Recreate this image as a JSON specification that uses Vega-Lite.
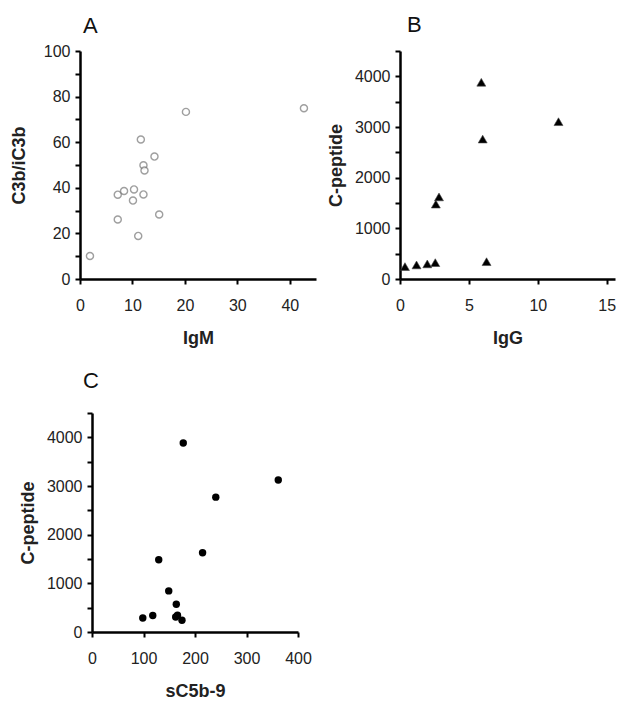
{
  "$schema": "https://vega.github.io/schema/vega-lite/v6.json",
  "padding": {"left": 10, "top": 14, "right": 0, "bottom": 0},
  "background": "white",
  "datasets": {
    "a": [
      {"IgM": 1.9, "C3b": 10.1}, {"IgM": 7.2, "C3b": 37.0}, {"IgM": 8.4, "C3b": 38.6},
      {"IgM": 10.3, "C3b": 39.3}, {"IgM": 10.1, "C3b": 34.4}, {"IgM": 7.2, "C3b": 26.1},
      {"IgM": 11.1, "C3b": 18.9}, {"IgM": 11.6, "C3b": 61.2}, {"IgM": 12.1, "C3b": 49.9},
      {"IgM": 12.3, "C3b": 47.6}, {"IgM": 12.1, "C3b": 37.1}, {"IgM": 14.2, "C3b": 53.7},
      {"IgM": 15.1, "C3b": 28.3}, {"IgM": 20.2, "C3b": 73.3}, {"IgM": 42.7, "C3b": 74.9}
    ],
    "b": [
      {"IgG": 0.36, "Cpep": 245}, {"IgG": 1.2, "Cpep": 278}, {"IgG": 1.98, "Cpep": 298},
      {"IgG": 2.56, "Cpep": 323}, {"IgG": 2.6, "Cpep": 1478}, {"IgG": 2.83, "Cpep": 1620},
      {"IgG": 5.9, "Cpep": 3883}, {"IgG": 6.0, "Cpep": 2762}, {"IgG": 6.28, "Cpep": 342},
      {"IgG": 11.5, "Cpep": 3105}
    ],
    "c": [
      {"sC5b9": 98.6, "Cpep": 289}, {"sC5b9": 118, "Cpep": 338}, {"sC5b9": 129.6, "Cpep": 1485},
      {"sC5b9": 149, "Cpep": 845}, {"sC5b9": 163.7, "Cpep": 571}, {"sC5b9": 162.5, "Cpep": 309},
      {"sC5b9": 166, "Cpep": 344}, {"sC5b9": 174.7, "Cpep": 241}, {"sC5b9": 177.2, "Cpep": 3884},
      {"sC5b9": 214.7, "Cpep": 1629}, {"sC5b9": 240.4, "Cpep": 2771}, {"sC5b9": 361.7, "Cpep": 3122}
    ]
  },
  "bounds": "flush",
  "columns": 2,
  "spacing": {"row": 134, "column": 84},
  "concat": [
    {
      "width": 236,
      "height": 228,
      "title": {"text": "A", "anchor": "start", "frame": "group", "dx": 3, "offset": 5},
      "data": {"name": "a"},
      "mark": {"type": "point", "shape": "circle", "filled": false, "stroke": "#777777", "strokeWidth": 1.4, "size": 50, "fill": "white"},
      "encoding": {
        "x": {"field": "IgM", "type": "quantitative", "title": "IgM",
              "scale": {"domain": [0, 45], "nice": false, "zero": true},
              "axis": {"values": [0, 10, 20, 30, 40], "labelPadding": 13, "titlePadding": 16}},
        "y": {"field": "C3b", "type": "quantitative", "title": "C3b/iC3b",
              "scale": {"domain": [0, 100], "nice": false},
              "axis": {"values": [0, 10, 20, 30, 40, 50, 60, 70, 80, 90, 100],
                       "labelExpr": "datum.value % 20 == 0 ? datum.label : ''", "titlePadding": 14.5}}
      }
    },
    {
      "width": 215,
      "height": 228,
      "title": {"text": "B", "anchor": "start", "frame": "group", "dx": 7, "offset": 13},
      "data": {"name": "b"},
      "mark": {"type": "point", "shape": "triangle-up", "filled": true, "fill": "black", "stroke": "#444", "strokeWidth": 0.6, "size": 80, "opacity": 1},
      "encoding": {
        "x": {"field": "IgG", "type": "quantitative", "title": "IgG",
              "scale": {"domain": [0, 15.6], "nice": false},
              "axis": {"values": [0, 5, 10, 15], "labelPadding": 13, "titlePadding": 16}},
        "y": {"field": "Cpep", "type": "quantitative", "title": "C-peptide",
              "scale": {"domain": [0, 4500], "nice": false},
              "axis": {"values": [0, 500, 1000, 1500, 2000, 2500, 3000, 3500, 4000, 4500],
                       "labelExpr": "datum.value % 1000 == 0 ? datum.value : ''", "titlePadding": 9}}
      }
    },
    {
      "width": 218,
      "height": 219,
      "title": {"text": "C", "anchor": "start", "frame": "group", "dx": 3, "offset": 19},
      "data": {"name": "c"},
      "mark": {"type": "point", "shape": "circle", "filled": true, "fill": "black", "size": 55, "opacity": 1},
      "encoding": {
        "x": {"field": "sC5b9", "type": "quantitative", "title": "sC5b-9",
              "scale": {"domain": [0, 400], "nice": false, "range": [12, 218]},
              "axis": {"values": [0, 100, 200, 300, 400], "labelPadding": 13, "titlePadding": 16}},
        "y": {"field": "Cpep", "type": "quantitative", "title": "C-peptide",
              "scale": {"domain": [0, 4500], "nice": false},
              "axis": {"values": [0, 500, 1000, 1500, 2000, 2500, 3000, 3500, 4000, 4500], "offset": -12,
                       "labelExpr": "datum.value % 1000 == 0 ? datum.value : ''", "titlePadding": 9}}
      }
    }
  ],
  "config": {
    "view": {"stroke": null},
    "font": "Liberation Sans",
    "title": {"font": "Liberation Sans", "fontSize": 22, "fontWeight": "normal", "color": "#111"},
    "axis": {
      "grid": false,
      "domain": true,
      "domainColor": "black",
      "domainWidth": 2.5,
      "tickColor": "black",
      "tickWidth": 2,
      "tickSize": 5,
      "labelFlush": false,
      "labelFont": "Liberation Sans",
      "labelFontSize": 16,
      "labelColor": "#222",
      "labelPadding": 5,
      "titleFont": "Liberation Sans",
      "titleFontSize": 18,
      "titleFontWeight": "bold",
      "titleColor": "#222"
    }
  }
}
